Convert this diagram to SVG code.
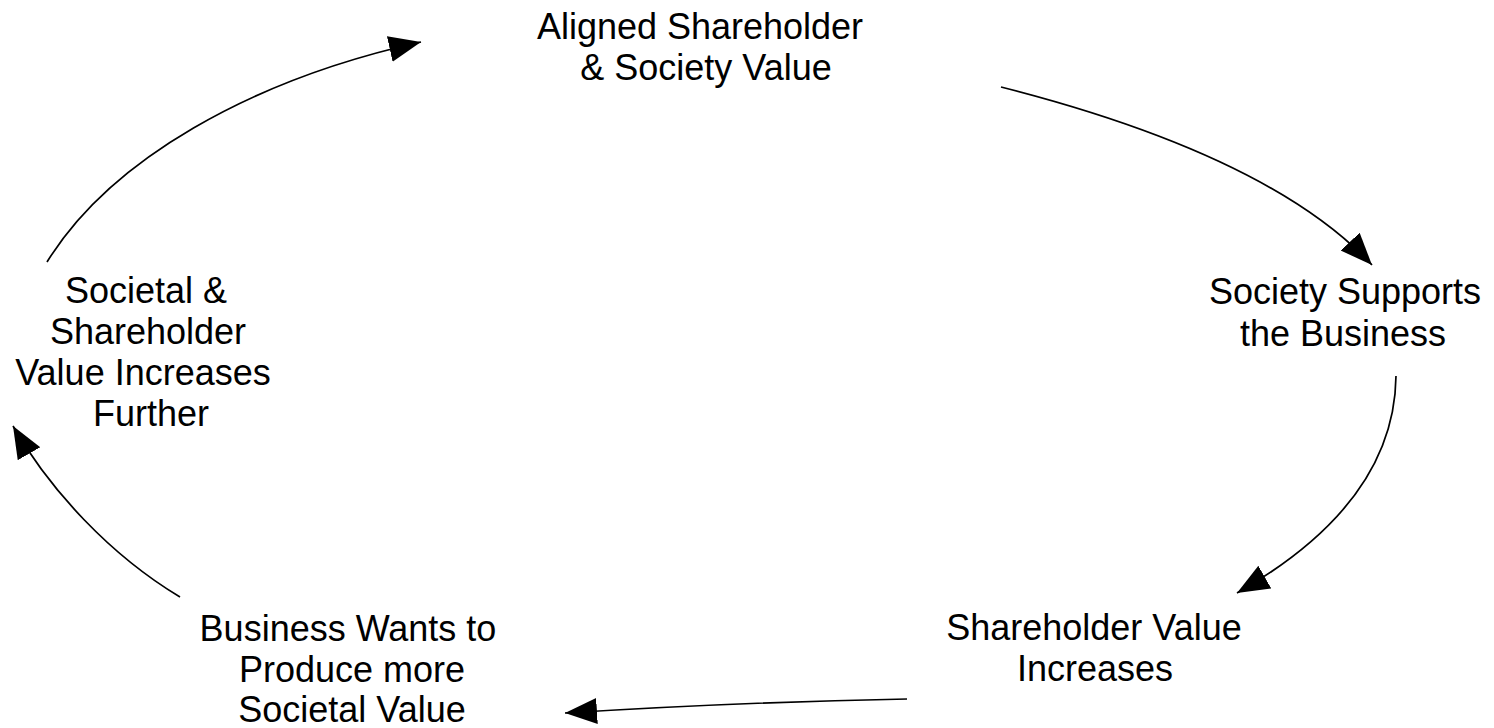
<svg xmlns="http://www.w3.org/2000/svg" width="1494" height="728" viewBox="0 0 1494 728">
<defs>
<style>
text{font-family:"Liberation Sans",Arial,sans-serif;font-size:36px;fill:#000;text-anchor:middle}
.c{fill:none;stroke:#000;stroke-width:1.7}
</style>
<marker id="ah" markerUnits="userSpaceOnUse" markerWidth="34" markerHeight="30" refX="32" refY="13" orient="auto">
<path d="M0,0 L32,13 L0,26 Z" fill="#000"/>
</marker>
</defs>
<rect width="1494" height="728" fill="#fff"/>
<g id="connectors">
<path class="c" d="M1001,87 C1170,130 1300,188 1372,265" marker-end="url(#ah)"/>
<path class="c" d="M1396,376 C1395,470 1330,540 1237,593" marker-end="url(#ah)"/>
<path class="c" d="M907,699 Q740,702 565,713" marker-end="url(#ah)"/>
<path class="c" d="M180,597 C110,555 50,490 13,426" marker-end="url(#ah)"/>
<path class="c" d="M47,262 C110,160 250,80 421,42" marker-end="url(#ah)"/>
</g>
<g id="n1"><text x="700" y="39">Aligned Shareholder</text><text x="706" y="80">&amp; Society Value</text></g>
<g id="n2"><text x="1345" y="304">Society Supports</text><text x="1343" y="346">the Business</text></g>
<g id="n3"><text x="1094" y="640">Shareholder Value</text><text x="1095" y="681">Increases</text></g>
<g id="n4"><text x="348" y="641">Business Wants to</text><text x="352" y="682">Produce more</text><text x="352" y="722">Societal Value</text></g>
<g id="n5"><text x="146" y="303">Societal &amp;</text><text x="148" y="344">Shareholder</text><text x="143" y="385">Value Increases</text><text x="151" y="426">Further</text></g>
</svg>
